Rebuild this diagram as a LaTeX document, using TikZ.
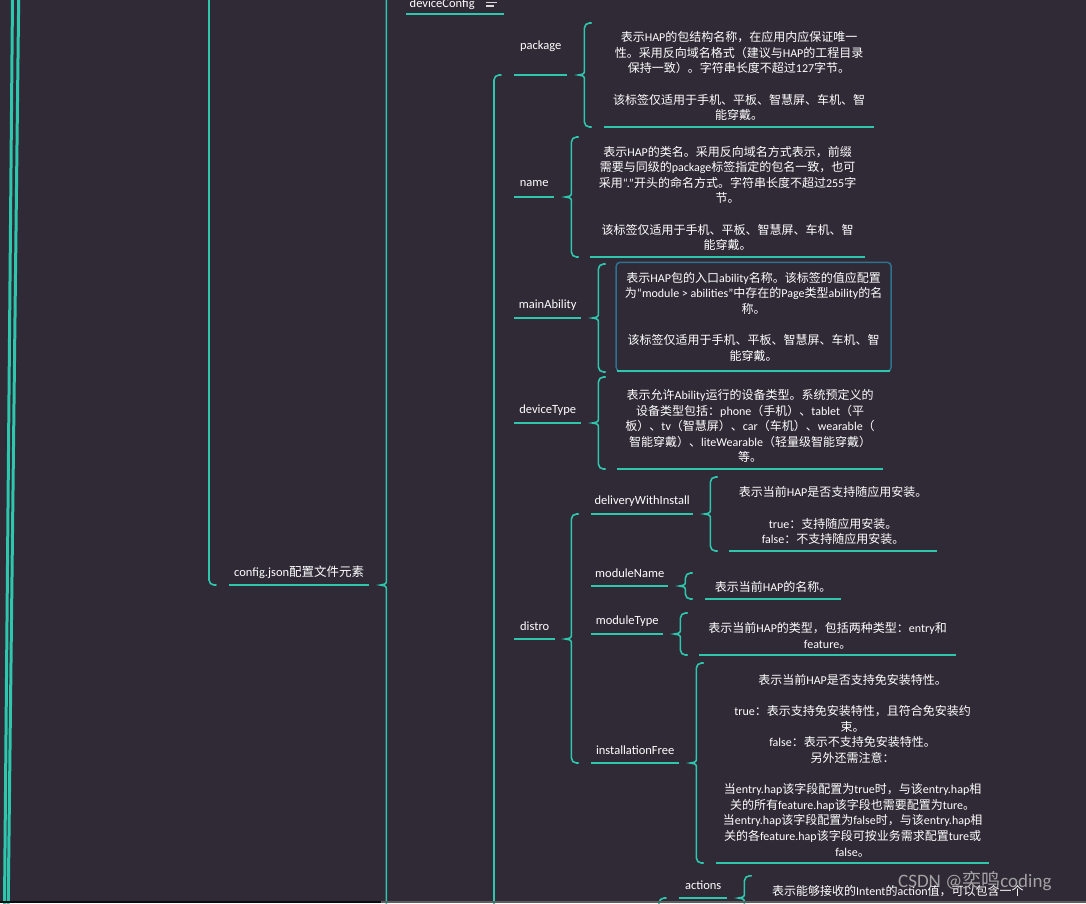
\documentclass[tikz,border=0pt]{standalone}
\usepackage{fontspec}
\setmainfont{Carlito}
\newfontfamily\latinfont{Carlito}
\newfontfamily\cjkfont{Noto Sans CJK SC}
\usepackage{tikz}
\usetikzlibrary{calc}
\usepackage{xcolor}
\definecolor{bgdark}{HTML}{2F2A36}
\definecolor{mmteal}{HTML}{2EC7AE}
\definecolor{boxblue}{HTML}{2E7290}
\definecolor{bargray}{HTML}{5E5E5E}

% switch to the CJK family for Han characters and full-width punctuation
\XeTeXinterchartokenstate=1
\newXeTeXintercharclass\hzclass
\newcount\hzc
\def\sethz#1#2{\hzc=#1 \loop\XeTeXcharclass\hzc=\hzclass \ifnum\hzc<#2 \advance\hzc by 1 \repeat}
\sethz{"3000}{"303F}
\sethz{"4E00}{"9FFF}
\sethz{"FF00}{"FFEF}
\XeTeXcharclass"201C=0 \XeTeXcharclass"201D=0
\XeTeXinterchartoks 0 \hzclass = {\cjkfont}
\XeTeXinterchartoks 4095 \hzclass = {\cjkfont}
\XeTeXinterchartoks \hzclass 0 = {\latinfont}
\XeTeXinterchartoks 4095 0 = {\latinfont}

% brace: #1 tip, #2 top reference, #3 bottom reference
\newcommand{\drawbrace}[3]{%
  \draw[brc, rounded corners=5pt] ($(#2 -| #1)+(13,0)$) -- ($(#2 -| #1)+(6,0)$) -- ($(#1)+(6,-6)$);
  \draw[brc] ($(#1)+(6,-6)$) .. controls ($(#1)+(6,-1)$) .. (#1) .. controls ($(#1)+(6,1)$) .. ($(#1)+(6,6)$);
  \draw[brc, rounded corners=5pt] ($(#1)+(6,6)$) -- ($(#3 -| #1)+(6,0)$) -- ($(#3 -| #1)+(13,0)$);
}
% brace from a label to its description
\newcommand{\descbrace}[2]{%
  \coordinate (tp) at ($(#1.south east)+(11,0)$);
  \coordinate (bt) at ($(tp)!-1!(#2.south -| tp)$);
  \drawbrace{tp}{bt}{#2.south}
}

\begin{document}
\begin{tikzpicture}[x=1pt, y=-1pt,
    brc/.style={draw=mmteal, line width=1.6pt, line cap=round},
    ul/.style={draw=mmteal, line width=1.5pt},
    lbl/.style={anchor=south west, text=white, inner ysep=0pt, minimum height=26pt,
      font=\fontsize{12.5}{15}\selectfont},
    desc/.style={anchor=south west, text=white, align=center, inner ysep=6pt,
      font=\fontsize{12}{15.6}\selectfont}]
  \fill[bgdark] (0,0) rectangle (1086,903);
  \useasboundingbox (0,0) rectangle (1086,903);
  \clip (0,0) rectangle (1086,903);

  % outer branches
  \draw[mmteal, line width=3pt] (12.5,-2) -- (4.5,905);
  \draw[mmteal, line width=3pt] (18.7,-2) -- (8.2,905);

  % config.json
  \node[lbl, minimum width=140pt] (cfg) at (229,585) {config.json配置文件元素};
  \draw[ul] (cfg.south west) -- (cfg.south east);
  \draw[brc, rounded corners=5pt] ($(cfg.south west)+(-13,0)$) -- ($(cfg.south west)+(-20,0)$)
    -- ($(cfg.south west)+(-20,-600)$);
  \coordinate (cfgt) at ($(cfg.south east)+(11,0)$);
  \draw[brc] ($(cfgt)+(6,-600)$) -- ($(cfgt)+(6,-6)$) .. controls ($(cfgt)+(6,-1)$) .. (cfgt)
    .. controls ($(cfgt)+(6,1)$) .. ($(cfgt)+(6,6)$) -- ($(cfgt)+(6,330)$);

  % deviceConfig
  \node[lbl, minimum height=20pt, minimum width=98pt] (devcfg) at (406,14) {deviceConfig\rule{26pt}{0pt}};
  \draw[ul] (devcfg.south west) -- (devcfg.south east);
  \foreach \dy/\len in {-15/11, -11.5/11, -8/8}
    \draw[white!85!black, line width=1.2pt] ($(devcfg.south east)+(-18,\dy)$) -- ++(\len,0);

  % module children
  \node[lbl, minimum height=58pt, minimum width=53pt] (pkg) at (514,75) {package};
  \node[lbl, minimum width=40pt] (hapname) at (514,197) {name};
  \node[lbl, minimum width=67pt] (mainab) at (514,318) {mainAbility};
  \node[lbl, minimum width=67pt] (devtype) at (514,423) {deviceType};
  \node[lbl, minimum width=41pt] (distro) at (514,639) {distro};
  \draw[brc, rounded corners=5pt] ($(pkg.south west)+(-13,0)$) -- ($(pkg.south west)+(-20,0)$)
    -- ($(pkg.south west)+(-20,840)$);

  % distro children
  \node[lbl, minimum width=102pt] (dwi) at (591,514) {deliveryWithInstall};
  \node[lbl, minimum width=77pt] (mname) at (591,586) {moduleName};
  \node[lbl, minimum width=72pt] (mtype) at (591,634) {moduleType};
  \node[lbl, minimum width=88pt] (ifree) at (591,763) {installationFree};
  \coordinate (distrot) at ($(distro.south east)+(10,0)$);
  \drawbrace{distrot}{dwi.south}{ifree.south}

  % actions
  \node[lbl, minimum width=48pt] (actions) at (679,898) {actions};
  \draw[brc, rounded corners=5pt] ($(actions.south west)+(-13,0)$) -- ($(actions.south west)+(-20,0)$)
    -- ($(actions.south west)+(-20,30)$);

  \foreach \n in {pkg,hapname,mainab,devtype,distro,dwi,mname,mtype,ifree,actions}
    \draw[ul] (\n.south west) -- (\n.south east);

  % descriptions
  \node[desc, minimum width=269pt] (pkgd) at ($(pkg.south east)+(37,52)$)
    {表示HAP的包结构名称，在应用内应保证唯一\\性。采用反向域名格式（建议与HAP的工程目录\\保持一致）。字符串长度不超过127字节。\\[15.6pt]该标签仅适用于手机、平板、智慧屏、车机、智\\能穿戴。};
  \node[desc, minimum width=274pt] (hapnamed) at ($(hapname.south east)+(36,60)$)
    {表示HAP的类名。采用反向域名方式表示，前缀\\需要与同级的package标签指定的包名一致，也可\\采用“.”开头的命名方式。字符串长度不超过255字\\节。\\[15.6pt]该标签仅适用于手机、平板、智慧屏、车机、智\\能穿戴。};
  \node[desc, draw=boxblue, line width=1.5pt, rounded corners=4pt, minimum width=275pt,
    minimum height=109pt] (mainabd) at ($(mainab.south east)+(34,54)$)
    {表示HAP包的入口ability名称。该标签的值应配置\\为“module > abilities”中存在的Page类型ability的名\\称。\\[15.6pt]该标签仅适用于手机、平板、智慧屏、车机、智\\能穿戴。};
  \draw[mmteal, line width=2pt] ($(mainabd.south west)+(2,-1.5)$) -- ($(mainabd.south east)+(-2,-1.5)$);
  \node[desc, minimum width=265pt] (devtyped) at ($(devtype.south east)+(36,46)$)
    {表示允许Ability运行的设备类型。系统预定义的\\设备类型包括：phone（手机）、tablet（平\\板）、tv（智慧屏）、car（车机）、wearable（\\智能穿戴）、liteWearable（轻量级智能穿戴）\\等。};
  \node[desc, minimum width=207pt] (dwid) at ($(dwi.south east)+(36,37)$)
    {表示当前HAP是否支持随应用安装。\\[15.6pt]true：支持随应用安装。\\false：不支持随应用安装。};
  \node[desc, minimum width=135pt] (mnamed) at ($(mname.south east)+(37,13)$)
    {表示当前HAP的名称。};
  \node[desc, minimum width=256pt] (mtyped) at ($(mtype.south east)+(36,21)$)
    {表示当前HAP的类型，包括两种类型：entry和\\feature。};
  \node[desc, minimum width=272pt] (ifreed) at ($(ifree.south east)+(37,100)$)
    {表示当前HAP是否支持免安装特性。\\[15.6pt]true：表示支持免安装特性，且符合免安装约\\束。\\false：表示不支持免安装特性。\\另外还需注意：\\[15.6pt]当entry.hap该字段配置为true时，与该entry.hap相\\关的所有feature.hap该字段也需要配置为ture。\\当entry.hap该字段配置为false时，与该entry.hap相\\关的各feature.hap该字段可按业务需求配置ture或\\false。};
  \node[desc, anchor=base west, text depth=19pt, inner xsep=0pt] (actionsd) at (772,895)
    {表示能够接收的Intent的action值，可以包含一个};

  \foreach \n in {pkgd,hapnamed,devtyped,dwid,mnamed,mtyped,ifreed}
    \draw[ul] (\n.south west) -- (\n.south east);

  \descbrace{pkg}{pkgd}
  \descbrace{hapname}{hapnamed}
  \descbrace{mainab}{mainabd}
  \descbrace{devtype}{devtyped}
  \descbrace{dwi}{dwid}
  \descbrace{mname}{mnamed}
  \descbrace{mtype}{mtyped}
  \descbrace{ifree}{ifreed}
  \descbrace{actions}{actionsd}

  % watermark and scroll bar
  \node[text=white!75!black, opacity=0.8, anchor=base west, inner sep=0pt,
    font=\fontsize{19}{19}\selectfont] (mark) at (898,887) {CSDN @奕鸣coding};
  \fill[black!70!bgdark] (0,900.5) rectangle (381,903);
  \fill[bargray] (381,900.5) rectangle (1086,903);
\end{tikzpicture}
\end{document}
